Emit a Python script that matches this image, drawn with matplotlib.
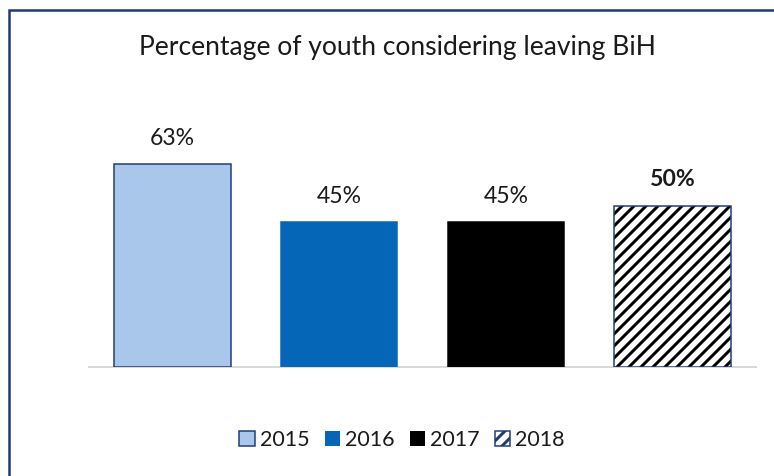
import matplotlib
matplotlib.use("Agg")
import matplotlib.pyplot as plt
from matplotlib.patches import Patch, Rectangle

# survey results
years = ["2015", "2016", "2017", "2018"]
share_leaving = [63, 45, 45, 50]
bar_colors = ["#A9C6EB", "#0566B8", "#000000", "#FFFFFF"]
edge_colors = ["#1F3C74", "#0566B8", "#000000", "#1F3C74"]

W, H, DPI = 774, 476, 72
plt.rcParams["font.family"] = ["Lato", "DejaVu Sans"]
plt.rcParams["hatch.linewidth"] = 3.0

fig = plt.figure(figsize=(W / DPI, H / DPI), dpi=DPI)
fig.patch.set_facecolor("white")

# frame around the chart (open on the right and bottom)
frame = Rectangle((9 / W, -0.1), 1.2, (H - 10) / H + 0.1, transform=fig.transFigure,
                  fill=False, edgecolor="#1F3C74", linewidth=2.5)
fig.patches.append(frame)

ax = fig.add_axes([89 / W, 109 / H, (756 - 89) / W, 258 / H])
x = list(range(len(years)))

ax.bar(x[:3], share_leaving[:3], width=0.7, color=bar_colors[:3],
       edgecolor=edge_colors[:3], linewidth=1.5, zorder=3)
# 2018 bar: black stripes, then the navy outline on top
ax.bar(x[3], share_leaving[3], width=0.7, color="white", hatch="//",
       edgecolor="black", linewidth=0, zorder=3)
ax.bar(x[3], share_leaving[3], width=0.7, fill=False,
       edgecolor=edge_colors[3], linewidth=1.5, zorder=4)

for i, v in enumerate(share_leaving):
    ax.text(x[i], v + 8, f"{v}%", ha="center", va="center", fontsize=23,
            color="#1a1a1a", fontweight="bold" if i == 3 else "normal")

ax.set_xlim(-0.5, 3.5)
ax.set_ylim(0, 80)
ax.set_xticks([])
ax.set_yticks([])
for side in ["top", "left", "right"]:
    ax.spines[side].set_visible(False)
ax.spines["bottom"].set_color("#D9D9D9")
ax.spines["bottom"].set_linewidth(2)
ax.spines["bottom"].set_zorder(2)

fig.text(397 / W, 1 - 48 / H, "Percentage of youth considering leaving BiH",
         ha="center", va="center", fontsize=26.5, color="#1a1a1a")

handles = [
    Patch(facecolor=bar_colors[0], edgecolor=edge_colors[0], linewidth=1.5),
    Patch(facecolor=bar_colors[1], edgecolor=bar_colors[1], linewidth=0),
    Patch(facecolor=bar_colors[2], edgecolor=bar_colors[2], linewidth=0),
    Patch(facecolor="white", edgecolor=edge_colors[3], linewidth=1.5, hatch="//"),
]
fig.legend(handles, years, loc="center", bbox_to_anchor=(402 / W, 1 - 440 / H),
           ncol=4, frameon=False, fontsize=21.5, handlelength=0.7, handleheight=0.7,
           handletextpad=0.25, columnspacing=0.7, labelcolor="#1a1a1a")

fig.savefig("out.png", dpi=DPI)
